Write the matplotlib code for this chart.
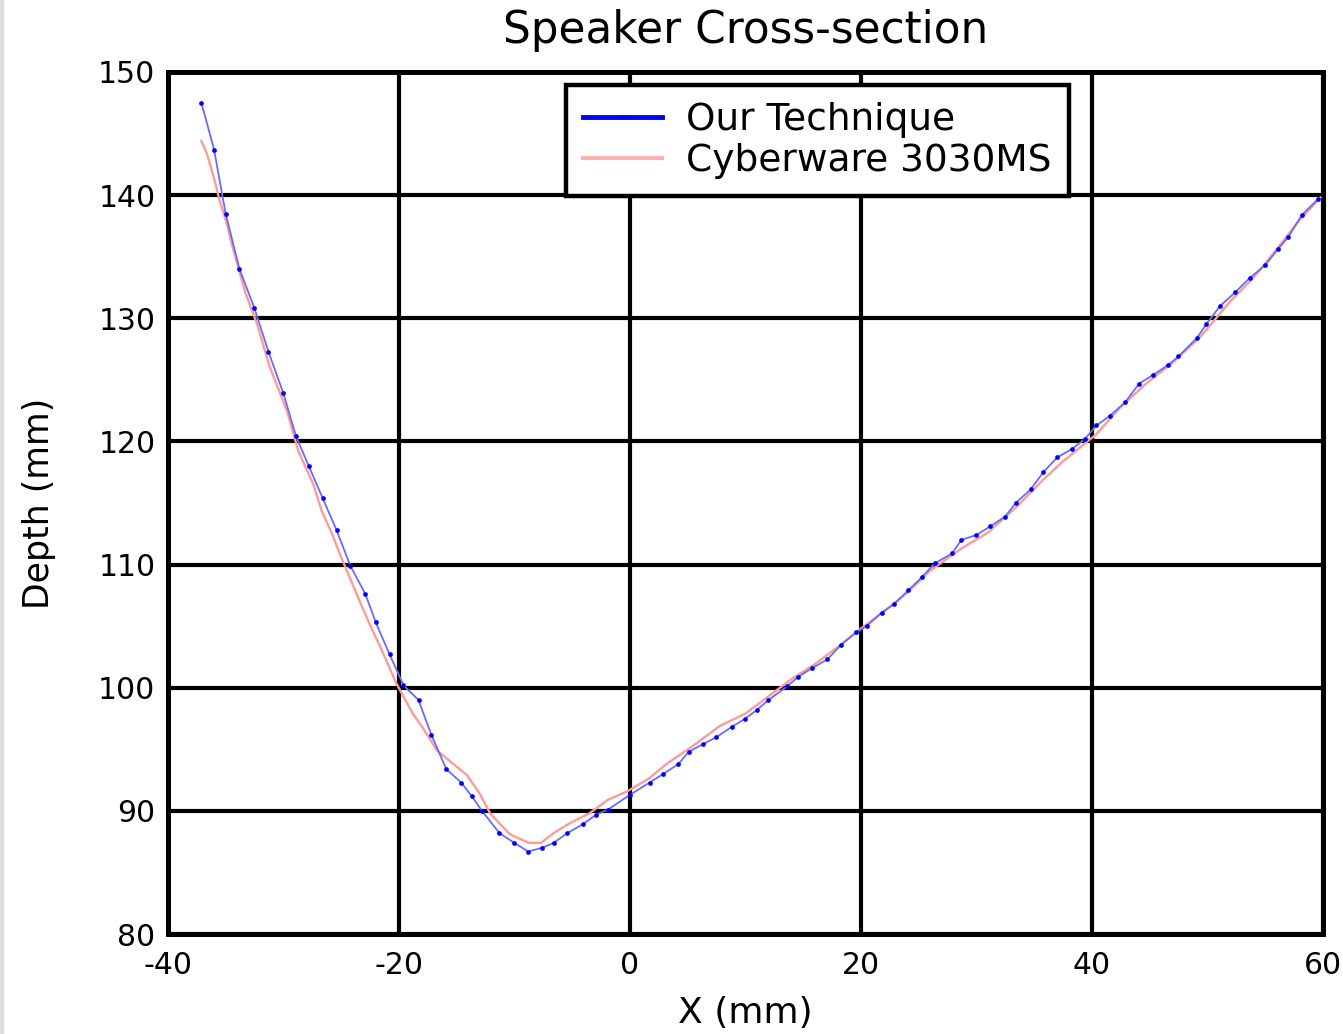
import matplotlib
matplotlib.use("Agg")
import matplotlib.pyplot as plt
from matplotlib.patches import Rectangle

# our technique (blue, with dots)
ours_x = [-37.1, -36.0, -35.0, -33.8, -32.5, -31.3, -30.0, -28.9, -27.8, -26.6,
          -25.4, -24.2, -22.9, -22.0, -20.8, -19.6, -18.3, -17.2, -15.9, -14.6,
          -13.7, -12.8, -11.3, -10.0, -8.8, -7.6, -6.6, -5.4, -4.1, -2.9,
          -1.9, 0.0, 1.7, 2.9, 4.2, 5.1, 6.3, 7.5, 8.8, 10.0,
          11.0, 12.0, 13.6, 14.6, 15.8, 17.1, 18.3, 19.6, 20.5, 21.8,
          22.9, 24.1, 25.3, 26.4, 27.9, 28.7, 30.0, 31.2, 32.5, 33.4,
          34.7, 35.8, 37.0, 38.3, 39.4, 40.4, 41.6, 42.9, 44.1, 45.3,
          46.6, 47.5, 49.1, 49.9, 51.1, 52.4, 53.7, 55.0, 56.1, 57.0,
          58.2, 59.6]
ours_y = [147.5, 143.7, 138.5, 134.0, 130.8, 127.3, 123.9, 120.4, 118.0, 115.4,
          112.8, 109.9, 107.6, 105.3, 102.7, 100.2, 99.0, 96.2, 93.4, 92.3,
          91.2, 90.0, 88.2, 87.4, 86.7, 87.0, 87.4, 88.2, 88.9, 89.7,
          90.1, 91.3, 92.3, 93.0, 93.8, 94.8, 95.4, 96.0, 96.8, 97.5,
          98.2, 99.0, 100.1, 100.9, 101.6, 102.3, 103.5, 104.5, 105.0, 106.1,
          106.8, 107.9, 109.0, 110.1, 110.9, 112.0, 112.4, 113.1, 113.9, 115.0,
          116.1, 117.5, 118.7, 119.4, 120.2, 121.3, 122.1, 123.2, 124.7, 125.4,
          126.2, 126.9, 128.4, 129.5, 131.0, 132.1, 133.3, 134.3, 135.6, 136.6,
          138.4, 139.7]

# cyberware scan (pink)
cyber_x = [-37.1, -36.6, -36.1, -35.5, -34.9, -34.4, -33.3, -32.3, -31.2, -29.7,
           -28.7, -27.4, -26.7, -25.7, -25.0, -24.1, -23.2, -22.5, -21.6, -20.8,
           -20.3, -19.5, -18.8, -17.9, -16.7, -15.4, -14.1, -13.0, -12.1, -10.4,
           -9.7, -8.7, -7.7, -6.6, -5.2, -3.5, -1.9, -0.2, 1.6, 3.3,
           5.2, 7.8, 10.0, 12.0, 14.0, 16.0, 18.0, 20.0, 22.0, 24.0,
           26.0, 28.7, 31.0, 33.5, 35.8, 37.4, 40.4, 42.5, 44.7, 47.0,
           49.5, 52.0, 54.0, 56.0, 58.0, 59.8]
cyber_y = [144.4, 143.3, 141.7, 139.5, 137.7, 135.8, 132.1, 129.6, 126.1, 122.5,
           119.2, 116.5, 114.4, 112.3, 110.6, 108.6, 106.6, 105.1, 103.3, 101.6,
           100.5, 99.1, 97.9, 96.7, 94.9, 93.9, 92.9, 91.4, 89.8, 88.1,
           87.8, 87.4, 87.4, 88.2, 89.0, 89.8, 90.9, 91.6, 92.6, 93.9,
           95.1, 96.9, 97.9, 99.3, 100.7, 101.9, 103.3, 104.8, 106.2, 107.7,
           109.5, 111.3, 112.6, 114.7, 116.9, 118.3, 120.6, 122.8, 124.7, 126.4,
           128.6, 131.4, 133.3, 135.6, 138.0, 139.8]

x_ticks = [-40, -20, 0, 20, 40, 60]
y_ticks = [80, 90, 100, 110, 120, 130, 140, 150]

plt.rcParams["font.family"] = ["DejaVu Sans"]
plt.rcParams["axes.unicode_minus"] = False

fig = plt.figure(figsize=(13.43, 10.34), dpi=100)
ax = fig.add_axes([0.125, 0.0967, 0.86, 0.8337])

ax.plot(cyber_x, cyber_y, color="#ff9a9a", linewidth=1.7, label="Cyberware 3030MS", zorder=3)
ax.plot(ours_x, ours_y, color="#6a6aff", linewidth=1.3, marker="o", markersize=3.4,
        markerfacecolor="#0000ff", markeredgewidth=0, label="Our Technique", zorder=4)

ax.set_xlim(-40, 60)
ax.set_ylim(80, 150)
ax.set_xticks(x_ticks)
ax.set_yticks(y_ticks)
ax.grid(True, color="black", linewidth=3.0)
ax.set_axisbelow(True)
for s in ax.spines.values():
    s.set_linewidth(3.6)
ax.tick_params(length=0, labelsize=21.5)
ax.tick_params(axis="x", pad=12)
ax.tick_params(axis="y", pad=9)

ax.set_title("Speaker Cross-section", fontsize=31.5, pad=21)
ax.set_xlabel("X (mm)", fontsize=26, labelpad=12)
ax.set_ylabel("Depth (mm)", fontsize=25, labelpad=30)

handles, labels = ax.get_legend_handles_labels()
leg = ax.legend(handles[::-1], labels[::-1], loc="upper left", bbox_to_anchor=(0.345, 0.985),
                fontsize=27, numpoints=1, fancybox=False, framealpha=1, edgecolor="black",
                borderpad=0.45, labelspacing=0.15, handlelength=2.1, handletextpad=0.65,
                borderaxespad=0)
leg.get_frame().set_linewidth(3.2)
leg_lines = leg.get_lines()
leg_lines[0].set_color("#0000ff")
leg_lines[0].set_linewidth(3.5)
leg_lines[1].set_linewidth(3)
leg_lines[1].set_color("#ffb0b0")

fig.add_artist(Rectangle((0, 0), 0.0025, 1, transform=fig.transFigure, color="#dddddd"))

fig.savefig("out.png", dpi=100)
